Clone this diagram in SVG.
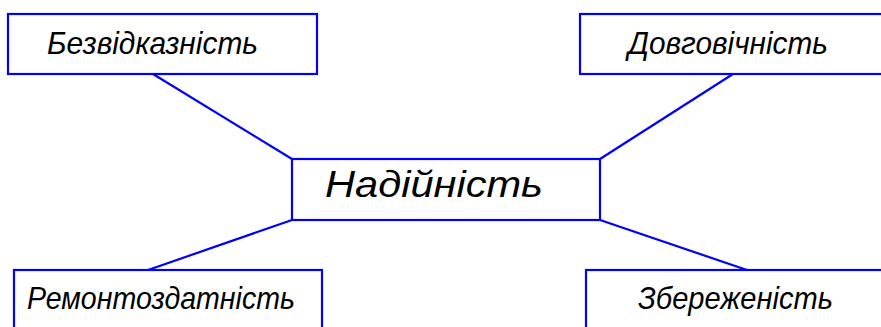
<svg xmlns="http://www.w3.org/2000/svg" width="881" height="327" viewBox="0 0 881 327">
<style>
.box{fill:#fff;stroke:#0000ff;stroke-width:2.2}
.conn line{stroke:#0000ff;stroke-width:2.2}
.t{font-family:"Liberation Sans",Arial,sans-serif;font-style:italic;font-size:32px;fill:#000}
</style>
<rect width="881" height="327" fill="#fff"/>
<g id="connectors" class="conn">
<line x1="153" y1="74" x2="292" y2="159"/>
<line x1="733" y1="74" x2="600" y2="159"/>
<line x1="148" y1="270" x2="292" y2="220"/>
<line x1="747" y1="270" x2="600" y2="220"/>
</g>
<g id="n-bezvidkaznist">
<rect class="box" x="8" y="14" width="309" height="60"/>
<text class="t" x="47" y="54" textLength="211" lengthAdjust="spacingAndGlyphs">Безвідказність</text>
</g>
<g id="n-dovgovichnist">
<rect class="box" x="580" y="14" width="310" height="60"/>
<text class="t" x="628" y="54" textLength="200" lengthAdjust="spacingAndGlyphs">Довговічність</text>
</g>
<g id="n-nadiinist">
<rect class="box" x="292" y="159" width="308" height="61"/>
<text class="t" x="325" y="197" style="font-size:36px" textLength="218" lengthAdjust="spacingAndGlyphs">Надійність</text>
</g>
<g id="n-remontozdatnist">
<rect class="box" x="14" y="270" width="308" height="70"/>
<text class="t" x="27" y="309" textLength="268" lengthAdjust="spacingAndGlyphs">Ремонтоздатність</text>
</g>
<g id="n-zberezhenist">
<rect class="box" x="586" y="270" width="310" height="70"/>
<text class="t" x="638" y="309" textLength="195" lengthAdjust="spacingAndGlyphs">Збереженість</text>
</g>
</svg>
